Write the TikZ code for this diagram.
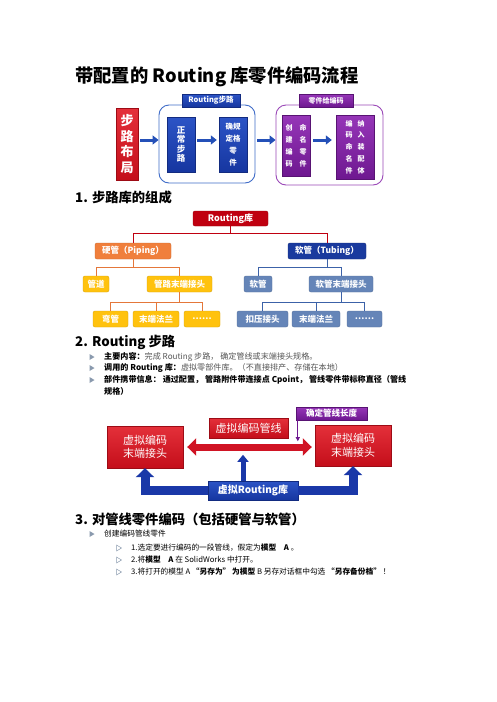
\documentclass[tikz,border=0pt]{standalone}
\usepackage{fontspec}
\setmainfont{Noto Sans CJK SC}
\usetikzlibrary{arrows.meta}

\definecolor{boxred}{HTML}{C40E1A}
\definecolor{boxredlight}{HTML}{E4303A}
\definecolor{boxblue}{HTML}{1636A0}
\definecolor{boxbluelight}{HTML}{2C54C6}
\definecolor{boxpurple}{HTML}{6E1890}
\definecolor{boxpurplelight}{HTML}{9636B8}
\definecolor{groupblue}{HTML}{3F6CC8}
\definecolor{grouppurple}{HTML}{9A48B8}
\definecolor{flowblue}{HTML}{2450B8}
\definecolor{pipeorange}{HTML}{F07F3C}
\definecolor{pipeline}{HTML}{E4773A}
\definecolor{tubeblue}{HTML}{1A3A9E}
\definecolor{tubeline}{HTML}{3C62A8}
\definecolor{leafyellow}{HTML}{FFC20E}
\definecolor{leafsteel}{HTML}{6585B8}
\definecolor{treered}{HTML}{C00010}
\definecolor{bigred}{HTML}{D01424}
\definecolor{bigblue}{HTML}{1A38A8}
\definecolor{bulletcol}{HTML}{8A9AAE}
\definecolor{greytext}{HTML}{555555}

\begin{document}
\begin{tikzpicture}[x=1pt,y=-1pt,
    box/.style={text=white,align=center,inner sep=0pt,line width=0.4pt},
    redcol/.style={top color=boxredlight,bottom color=boxred,draw=boxred!80!black},
    bluecol/.style={top color=boxbluelight,bottom color=boxblue,draw=boxblue!80!black},
    purplecol/.style={top color=boxpurplelight,bottom color=boxpurple,draw=boxpurple!80!black},
    group/.style={line width=0.9pt,rounded corners=10pt},
    flowarrow/.style={draw=flowblue,line width=3pt,-{Triangle[length=6pt,width=9pt]}},
    treebox/.style={box,rounded corners=2pt,minimum height=16,font=\bfseries\fontsize{8.5}{9}\selectfont},
    leafbox/.style={treebox,fill=leafyellow,draw=leafyellow!85!black},
    steelbox/.style={treebox,fill=leafsteel,draw=leafsteel!85!black},
    heading/.style={anchor=west,inner sep=0pt,font=\bfseries\fontsize{13.3}{14}\selectfont},
    itemtext/.style={anchor=west,inner sep=0pt,font=\fontsize{8.1}{9}\selectfont},
    subtext/.style={anchor=west,inner sep=0pt,font=\fontsize{7.7}{9}\selectfont},
    bigbox/.style={box,redcol,font=\fontsize{11}{13.5}\selectfont}]
\useasboundingbox (0,0) rectangle (496,702);
\fill[white] (0,0) rectangle (496,702);

\def\tri(#1,#2);{\fill[bulletcol] (#1,#2) ++(-2.5,-3) -- ++(0,6) -- ++(5,-3) -- cycle;}
\def\hollowtri(#1,#2);{\draw[bulletcol,line width=0.5pt] (#1,#2) ++(-2.5,-3) -- ++(0,6) -- ++(5,-3) -- cycle;}

\node[anchor=west,inner sep=0pt,font=\bfseries\fontsize{18.3}{19}\selectfont] (title) at (75,77) {带配置的 Routing 库零件编码流程};

% top flow
\node[box,redcol,minimum width=22,minimum height=72,font=\bfseries\fontsize{13}{15.5}\selectfont] (layout) at (127,144) {步\\路\\布\\局};

\node[group,draw=groupblue,minimum width=96,minimum height=78] (rgroup) at (207,144) {};
\node[box,bluecol,minimum width=58,minimum height=13,font=\bfseries\fontsize{7.5}{8}\selectfont] (rlabel) at (211,100.5) {Routing步路};
\node[box,bluecol,minimum width=28,minimum height=55,font=\bfseries\fontsize{8.5}{9.5}\selectfont] (normal) at (181,144.5) {正\\常\\步\\路};
\node[box,bluecol,minimum width=28,minimum height=55,font=\bfseries\fontsize{7.5}{12}\selectfont] (spec) at (233,144.5) {确规\\定格\\零\\件};

\node[group,draw=grouppurple,minimum width=107,minimum height=80] (pgroup) at (329.5,145) {};
\node[box,purplecol,minimum width=54,minimum height=13,font=\bfseries\fontsize{7}{8}\selectfont] (plabel) at (326,100.5) {零件给编码};
\node[box,purplecol,minimum width=28,minimum height=61,font=\bfseries\fontsize{7}{12}\selectfont] (create) at (296,145.5)
    {创\hspace{7pt}命\\建\hspace{7pt}名\\编\hspace{7pt}零\\码\hspace{7pt}件};
\node[box,purplecol,minimum width=38,minimum height=64,font=\bfseries\fontsize{7}{11.8}\selectfont] (fitin) at (355,147)
    {编\hspace{5pt}纳\\码\hspace{5pt}入\\命\hspace{5pt}装\\名\hspace{5pt}配\\件\hspace{5pt}体};

\draw[flowarrow] ([shift={(2pt,4pt)}]layout.east) -- ([yshift=4pt]rgroup.west);
\draw[flowarrow] ([shift={(2pt,4.5pt)}]normal.east) -- ([shift={(-2pt,4.5pt)}]spec.west);
\draw[flowarrow] ([shift={(2pt,4pt)}]rgroup.east) -- ([yshift=5pt]pgroup.west);
\draw[flowarrow] ([shift={(3pt,5.5pt)}]create.east) -- ([shift={(-4pt,5.5pt)}]create.east -| fitin.west);

% 1. library tree
\node[heading] (sec1) at (75,197) {1. 步路库的组成};

\node[treebox,fill=treered,draw=treered!80!black,minimum width=75,minimum height=15,font=\bfseries\fontsize{9}{9}\selectfont] (root) at (230.5,218.5) {Routing库};
\node[treebox,fill=pipeorange,draw=pipeorange!85!black,minimum width=76] (piping) at (133,251) {硬管（Piping）};
\node[treebox,fill=tubeblue,draw=tubeblue!80!black,minimum width=78] (tubing) at (327,251) {软管（Tubing）};

\node[leafbox,minimum width=26] (pipe) at (96,284) {管道};
\node[leafbox,minimum width=65] (pipeend) at (179.5,284) {管路末端接头};
\node[leafbox,minimum width=35] (elbow) at (110.5,319) {弯管};
\node[leafbox,minimum width=46] (flangea) at (156,319) {末端法兰};
\node[leafbox,minimum width=36] (morea) at (202,319) {……};

\node[steelbox,minimum width=28] (tube) at (258,284) {软管};
\node[steelbox,minimum width=64] (tubeend) at (341,284) {软管末端接头};
\node[steelbox,minimum width=51] (crimp) at (262.5,319) {扣压接头};
\node[steelbox,minimum width=48] (flangeb) at (316,319) {末端法兰};
\node[steelbox,minimum width=35] (moreb) at (364.5,319) {……};

\draw[treered,line width=1pt] (root.south) -- ++(0,7) -| (piping.north);
\draw[treered,line width=1pt] (root.south) -- ++(0,7) -| (tubing.north);
\draw[pipeline,line width=1pt] (piping.south) -- ++(0,8) -| (pipe.north);
\draw[pipeline,line width=1pt] (piping.south) -- ++(0,8) -| (pipeend.north);
\draw[pipeline,line width=1pt] (pipeend.south) -- ++(0,10) -| (elbow.north);
\draw[pipeline,line width=1pt] (pipeend.south) -- ++(0,10) -| (flangea.north);
\draw[pipeline,line width=1pt] (pipeend.south) -- ++(0,10) -| (morea.north);
\draw[tubeline,line width=1pt] (tubing.south) -- ++(0,8) -| (tube.north);
\draw[tubeline,line width=1pt] (tubing.south) -- ++(0,8) -| (tubeend.north);
\draw[tubeline,line width=1pt] (tubeend.south) -- ++(0,10) -| (crimp.north);
\draw[tubeline,line width=1pt] (tubeend.south) -- ++(0,10) -| (flangeb.north);
\draw[tubeline,line width=1pt] (tubeend.south) -- ++(0,10) -| (moreb.north);

% 2. routing
\node[heading] (sec2) at (75,342) {2. Routing 步路};
\tri(92,357);
\node[itemtext] (item1) at (104,357) {\textbf{主要内容：}\textcolor{greytext}{完成 Routing 步路， 确定管线或末端接头规格。}};
\tri(92,368);
\node[itemtext] (item2) at (104,368) {\textbf{调用的 Routing 库：}\textcolor{greytext}{虚拟零部件库。（不直接排产、存储在本地）}};
\tri(92,380);
\node[itemtext] (item3) at (104,380) {\textbf{部件携带信息： 通过配置， 管路附件带连接点 Cpoint， 管线零件带标称直径（管线}};
\node[itemtext] (item3b) at (104,391) {\textbf{规格）}};

\node[bigbox,minimum width=76,minimum height=42] (leftend) at (145,447) {虚拟编码\\末端接头};
\node[bigbox,minimum width=76,minimum height=41] (rightend) at (353,445.5) {虚拟编码\\末端接头};
\node[bigbox,minimum width=79,minimum height=20] (pipecode) at (248.5,428) {虚拟编码管线};
\node[box,purplecol,minimum width=71,minimum height=13,font=\bfseries\fontsize{8.5}{9}\selectfont] (length) at (331.5,413.5) {确定管线长度};
\node[box,bluecol,minimum width=90,minimum height=19,font=\bfseries\fontsize{10}{11}\selectfont] (vlib) at (253,490.5) {虚拟Routing库};

\draw[bigred,line width=7pt,{Triangle[length=9pt,width=17pt]}-{Triangle[length=9pt,width=17pt]}]
    ([xshift=4pt]leftend.east) -- ([xshift=-3pt]leftend.east -| rightend.west);
\draw[boxpurple,line width=0.8pt,-{Triangle[length=4pt,width=4pt]}] ([xshift=2pt]length.south west) -- ++(0,21);
\draw[bigblue,line width=5pt,-{Triangle[length=7pt,width=11pt]}] ([xshift=-10pt]vlib.north) -- ++(0,-26);
\draw[bigblue,line width=9pt,-{Triangle[length=9pt,width=18pt]}] (vlib.west) -| (leftend.south);
\draw[bigblue,line width=9pt,-{Triangle[length=9pt,width=18pt]}] (vlib.east) -| (rightend.south);

% 3. coding
\node[heading] (sec3) at (75,519) {3. 对管线零件编码（包括硬管与软管）};
\tri(92,534);
\node[subtext] (make) at (104,534) {创建编码管线零件};
\hollowtri(119,548);
\node[subtext] (step1) at (131,548) {1.选定要进行编码的一段管线，假定为\textbf{模型\quad A} 。};
\hollowtri(119,560);
\node[subtext] (step2) at (131,560) {2.将\textbf{模型\quad A} 在 SolidWorks 中打开。};
\hollowtri(119,572);
\node[subtext] (step3) at (131,572) {3.将打开的模型 A \textbf{“另存为” 为模型} B 另存对话框中勾选 \textbf{“另存备份档”} ！};
\end{tikzpicture}
\end{document}
